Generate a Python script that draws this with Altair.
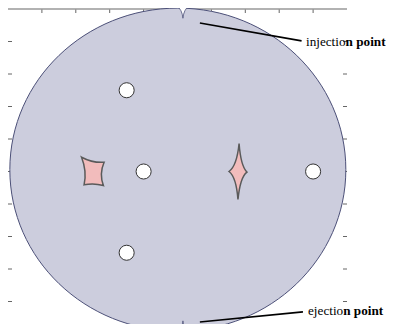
import altair as alt
import pandas as pd

# ---- data (axis units: x 0..10 left->right, y 0..10 bottom->top) ----
tick_x = [1, 2, 3, 4, 5, 6, 7, 8, 9]
tick_y = [1, 2, 3, 4, 5, 6, 7, 8, 9]
disk_x = [5.01]
disk_y = [5.06]
hole_x = [3.5, 4.0, 3.5, 9.0]
hole_y = [7.5, 5.0, 2.5, 5.0]
square_x = [2.5]
square_y = [5.0]
star_x = [6.8]
star_y = [5.0]
cusp_top_x = [5.16]
cusp_top_y = [9.9]
cusp_bot_x = [5.16]
cusp_bot_y = [0.22]
label_x = [8.79, 8.85]
label_y = [8.87, 0.6]
label_text = ["injectio", "ejectio"]
label_bold = ["n point", "n point"]
leader_x1 = [5.66, 5.66]
leader_y1 = [9.57, 0.37]
leader_x2 = [8.66, 8.70]
leader_y2 = [9.02, 0.68]

W, H = 378, 316
XR = [0, 339]
YR = [326, 1]
FS = 13.2
FONT = "Liberation Serif, Times New Roman, DejaVu Serif, serif"
# width of the regular part in em (Times metrics), used to place the bold part
EM_NORMAL = [3.0, 2.666]


def X(f):
    return alt.X(f"{f}:Q", scale=alt.Scale(domain=[0, 10], range=XR, nice=False, zero=False), axis=None)


def Y(f):
    return alt.Y(f"{f}:Q", scale=alt.Scale(domain=[0, 10], range=YR, nice=False, zero=False), axis=None)


ELLIPSE = ("M-1,0 C-1,-0.531 -0.552,-0.961 0,-0.961 C0.552,-0.961 1,-0.531 1,0 "
           "C1,0.531 0.552,0.961 0,0.961 C-0.552,0.961 -1,0.531 -1,0 Z")
SQUARE = "M-0.8,-1.02 Q0,-0.6 0.81,-0.66 Q0.45,0.17 0.76,1 Q0.07,0.8 -0.62,0.95 Q-0.4,0 -0.8,-1.02 Z"
STAR = "M0.02,-1 Q0.08,-0.2 0.3,0.02 Q0.06,0.2 -0.02,1 Q-0.08,0.2 -0.34,0 Q-0.06,-0.2 0.02,-1 Z"
NOTCH_T = "M-1,-1 Q-0.15,-0.5 0,1 Q0.15,-0.5 1,-1 Z"
NOTCH_B = "M-1,1 Q-0.15,0.5 0,-1 Q0.15,0.5 1,1 Z"

RIM = "#4c5078"

disk = alt.Chart(pd.DataFrame({"x": disk_x, "y": disk_y})).mark_point(
    shape=ELLIPSE, size=336 * 336, filled=True, fill="#cccddd", stroke=RIM,
    strokeWidth=1, opacity=1
).encode(x=X("x"), y=Y("y"))

notch_t = alt.Chart(pd.DataFrame({"x": cusp_top_x, "y": cusp_top_y})).mark_point(
    shape=NOTCH_T, size=144, filled=True, fill="white", stroke=RIM, strokeWidth=0.8, opacity=1
).encode(x=X("x"), y=Y("y"))
notch_b = alt.Chart(pd.DataFrame({"x": cusp_bot_x, "y": cusp_bot_y})).mark_point(
    shape=NOTCH_B, size=144, filled=True, fill="white", stroke=RIM, strokeWidth=0.8, opacity=1
).encode(x=X("x"), y=Y("y"))

holes = alt.Chart(pd.DataFrame({"x": hole_x, "y": hole_y})).mark_circle(
    size=227, color="white", stroke="#333333", strokeWidth=1, opacity=1
).encode(x=X("x"), y=Y("y"))

square = alt.Chart(pd.DataFrame({"x": square_x, "y": square_y})).mark_point(
    shape=SQUARE, size=784, filled=True, fill="#f2bcbc", stroke="#5a5a5a", strokeWidth=1.5, opacity=1
).encode(x=X("x"), y=Y("y"))

star = alt.Chart(pd.DataFrame({"x": star_x, "y": star_y})).mark_point(
    shape=STAR, size=56 * 56, filled=True, fill="#f2bcbc", stroke="#5a5a5a", strokeWidth=1.5, opacity=1
).encode(x=X("x"), y=Y("y"))

tick_df_x = pd.DataFrame({"t": tick_x})
tick_df_y = pd.DataFrame({"t": tick_y})
tick_color = "#666666"
top_ticks = alt.Chart(tick_df_x).mark_rule(color=tick_color).encode(
    x=X("t"), y=alt.value(1), y2=alt.value(5))
bot_ticks = alt.Chart(tick_df_x).mark_rule(color=tick_color).encode(
    x=X("t"), y=alt.value(326), y2=alt.value(322))
left_ticks = alt.Chart(tick_df_y).mark_rule(color=tick_color).encode(
    y=Y("t"), x=alt.value(0), x2=alt.value(4))
right_ticks = alt.Chart(tick_df_y).mark_rule(color=tick_color).encode(
    y=Y("t"), x=alt.value(335), x2=alt.value(339))
top_line = alt.Chart(pd.DataFrame({"t": [0]})).mark_rule(color="#999999", strokeWidth=1.5).encode(
    x=alt.value(0), x2=alt.value(339), y=alt.value(1))

lab_df = pd.DataFrame({"x": label_x, "y": label_y, "a": label_text, "b": label_bold})
lab_a = alt.Chart(lab_df).mark_text(
    align="left", baseline="alphabetic", font=FONT, fontSize=FS, color="black"
).encode(x=X("x"), y=Y("y"), text="a:N")
lab_b_inj = alt.Chart(lab_df.iloc[[0]]).mark_text(
    align="left", baseline="alphabetic", font=FONT, fontSize=FS,
    fontWeight="bold", color="black", dx=EM_NORMAL[0] * FS
).encode(x=X("x"), y=Y("y"), text="b:N")
lab_b_ej = alt.Chart(lab_df.iloc[[1]]).mark_text(
    align="left", baseline="alphabetic", font=FONT, fontSize=FS,
    fontWeight="bold", color="black", dx=EM_NORMAL[1] * FS
).encode(x=X("x"), y=Y("y"), text="b:N")

lead_df = pd.DataFrame({"x": leader_x1, "y": leader_y1, "x2": leader_x2, "y2": leader_y2})
leaders = alt.Chart(lead_df).mark_rule(color="black", strokeWidth=1.6).encode(
    x=X("x"), y=Y("y"), x2="x2:Q", y2="y2:Q")

chart = alt.layer(
    top_ticks, bot_ticks, left_ticks, right_ticks, top_line,
    disk, notch_t, notch_b, holes, square, star, leaders, lab_a, lab_b_inj, lab_b_ej
).properties(
    width=W, height=H, padding=0, autosize=alt.AutoSizeParams(type="none")
).configure_view(strokeWidth=0)

chart.save("out.html", embed_options={"renderer": "svg", "actions": False})
